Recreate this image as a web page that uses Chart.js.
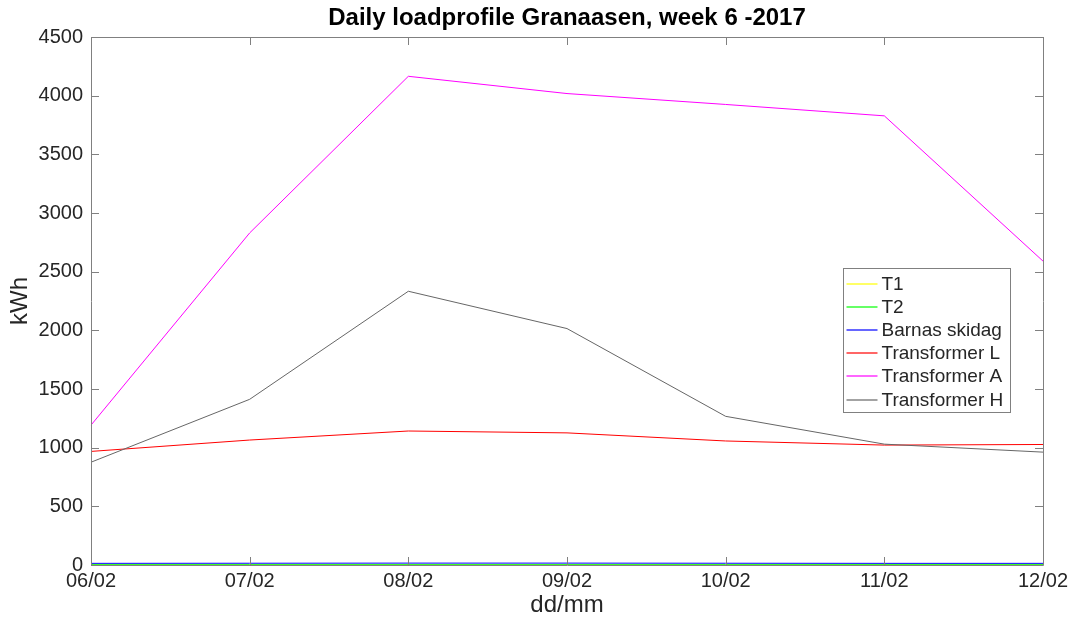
<!DOCTYPE html>
<html>
<head>
<meta charset="utf-8">
<script src="https://cdn.jsdelivr.net/npm/chart.js@4.4.0/dist/chart.umd.min.js"></script>
<style>
  html, body { margin: 0; padding: 0; background: #fff; }
  #wrap { width: 1074px; height: 628px; position: relative; }
</style>
</head>
<body>
<div id="wrap"><canvas id="loadChart"></canvas></div>
<script>
// days of week 6, 2017
const days = ['06/02', '07/02', '08/02', '09/02', '10/02', '11/02', '12/02'];

// kWh per day
const t1 = [0, 0, 0, 0, 0, 0, 0];
const t2 = [2, 2, 2, 2, 2, 2, 2];
const barnasSkidag = [14, 15, 16, 16, 15, 14, 14];
const transformerL = [968, 1065, 1142, 1126, 1057, 1022, 1027];
const transformerA = [1192, 2830, 4165, 4018, 3925, 3828, 2590];
const transformerH = [876, 1412, 2333, 2015, 1267, 1030, 962];

const yTicks = [0, 500, 1000, 1500, 2000, 2500, 3000, 3500, 4000, 4500];

const seriesNames = ['T1', 'T2', 'Barnas skidag', 'Transformer L', 'Transformer A', 'Transformer H'];
const seriesData = [t1, t2, barnasSkidag, transformerL, transformerA, transformerH];
const seriesColors = ['#ffff00', '#00ff00', '#0000ff', '#ff0000', '#ff00ff', '#666666'];

const chartTitle = 'Daily loadprofile Granaasen, week 6 -2017';

const FONT = '"Liberation Sans", Arial, Helvetica, sans-serif';
const AXIS_COLOR = '#808080';
const TEXT_COLOR = '#262626';

// matlab style box with inward ticks on all four sides
const boxPlugin = {
    id: 'matlabBox',
    afterDatasetsDraw(chart) {
        const ctx = chart.ctx;
        const a = chart.chartArea;
        const x = chart.scales.x;
        const y = chart.scales.y;
        const tl = 8;
        ctx.save();
        ctx.strokeStyle = AXIS_COLOR;
        ctx.lineWidth = 1;
        ctx.beginPath();
        ctx.rect(a.left + 0.5, a.top + 0.5, a.right - a.left, a.bottom - a.top);
        for (var i = 0; i < days.length; i++) {
            var px = Math.round(x.getPixelForValue(i)) + 0.5;
            ctx.moveTo(px, a.bottom);
            ctx.lineTo(px, a.bottom - tl);
            ctx.moveTo(px, a.top);
            ctx.lineTo(px, a.top + tl);
        }
        for (var j = 0; j < yTicks.length; j++) {
            var py = Math.round(y.getPixelForValue(yTicks[j])) + 0.5;
            ctx.moveTo(a.left, py);
            ctx.lineTo(a.left + tl, py);
            ctx.moveTo(a.right, py);
            ctx.lineTo(a.right - tl, py);
        }
        ctx.stroke();

        // title centred over the axes, not the whole figure
        ctx.fillStyle = '#000';
        ctx.font = 'bold 24px ' + FONT;
        ctx.textAlign = 'center';
        ctx.textBaseline = 'middle';
        ctx.fillText(chartTitle, (a.left + a.right) / 2, 18);
        ctx.restore();
    }
};

// legend drawn inside the axes, like matlab's 'east' placement
const insideLegend = {
    id: 'insideLegend',
    afterDraw(chart) {
        const ctx = chart.ctx;
        const left = 843.5, top = 268.5, w = 167, h = 144;
        const rowH = 23.2;
        ctx.save();
        ctx.fillStyle = '#ffffff';
        ctx.fillRect(left, top, w, h);
        ctx.strokeStyle = AXIS_COLOR;
        ctx.lineWidth = 1;
        ctx.strokeRect(left, top, w, h);
        ctx.font = '19px ' + FONT;
        ctx.textAlign = 'left';
        ctx.textBaseline = 'middle';
        for (var i = 0; i < seriesNames.length; i++) {
            // sample line sits on a pixel boundary so it spreads soft over two rows
            var cy = Math.round(top + 15 + i * rowH);
            ctx.beginPath();
            ctx.strokeStyle = seriesColors[i];
            ctx.lineWidth = 1.2;
            ctx.moveTo(left + 3, cy);
            ctx.lineTo(left + 34, cy);
            ctx.stroke();
            ctx.fillStyle = TEXT_COLOR;
            ctx.fillText(seriesNames[i], left + 38, cy + 1);
        }
        ctx.restore();
    }
};

const datasets = seriesNames.map((name, i) => ({
    label: name,
    data: seriesData[i],
    borderColor: seriesColors[i],
    backgroundColor: seriesColors[i],
    borderWidth: 1,
    pointRadius: 0,
    tension: 0,
    fill: false,
    order: seriesNames.length - i
}));

new Chart(document.getElementById('loadChart'), {
    type: 'line',
    data: { labels: days, datasets: datasets },
    plugins: [boxPlugin, insideLegend],
    options: {
        responsive: true,
        maintainAspectRatio: false,
        animation: false,
        events: [],
        layout: { padding: { left: 0, right: 31, top: 37, bottom: 0 } },
        plugins: {
            legend: { display: false },
            tooltip: { enabled: false },
            title: { display: false }
        },
        scales: {
            x: {
                type: 'category',
                offset: false,
                grid: { display: false, drawTicks: false },
                border: { display: false },
                ticks: {
                    color: TEXT_COLOR,
                    font: { family: FONT, size: 20 },
                    padding: 4,
                    maxRotation: 0,
                    autoSkip: false
                },
                title: {
                    display: true,
                    text: 'dd/mm',
                    color: TEXT_COLOR,
                    font: { family: FONT, size: 24 },
                    padding: { top: 2, bottom: 8 }
                },
                afterFit(scale) { scale.height = 63; }
            },
            y: {
                min: 0,
                max: 4500,
                grid: { display: false, drawTicks: false },
                border: { display: false },
                afterBuildTicks(scale) { scale.ticks = yTicks.map(v => ({ value: v })); },
                ticks: {
                    color: TEXT_COLOR,
                    font: { family: FONT, size: 20 },
                    padding: 8,
                    callback: (v) => String(v)
                },
                title: {
                    display: true,
                    text: 'kWh',
                    color: TEXT_COLOR,
                    font: { family: FONT, size: 24 },
                    padding: { top: 6, bottom: 0 }
                },
                afterFit(scale) { scale.width = 91; }
            }
        }
    }
});
</script>
</body>
</html>
